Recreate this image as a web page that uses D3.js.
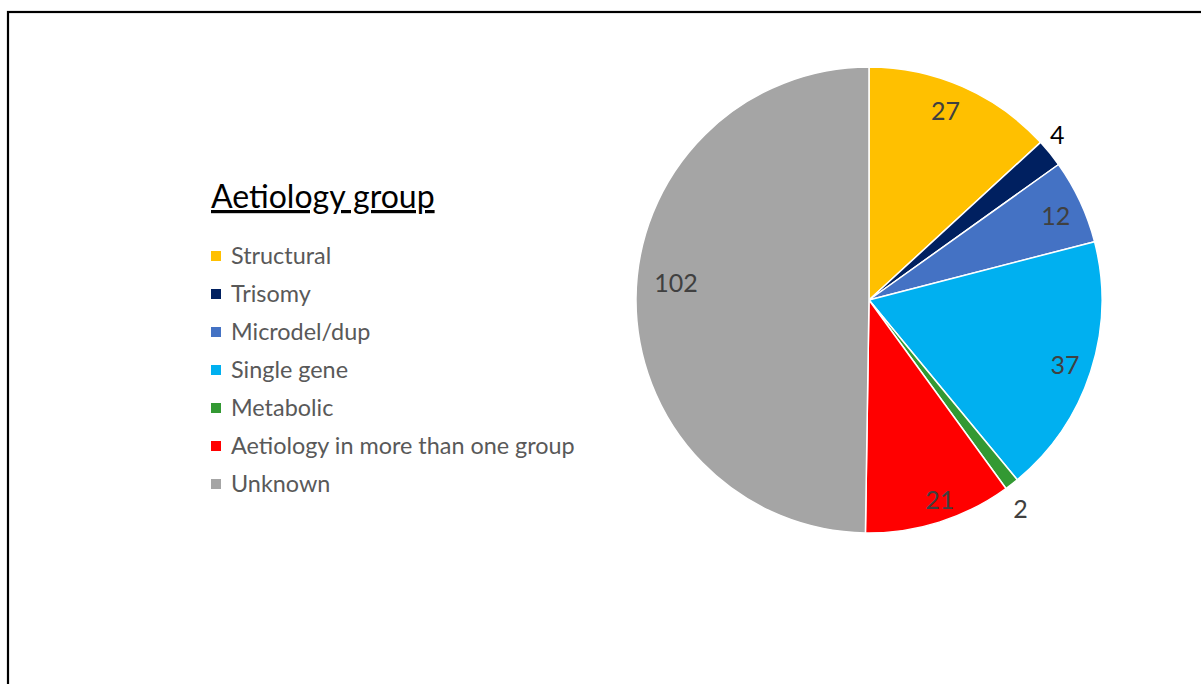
<!DOCTYPE html>
<html>
<head>
<meta charset="utf-8">
<script src="https://cdn.jsdelivr.net/npm/d3@7"></script>
<style>
  html, body { margin: 0; padding: 0; background: #fff; }
  svg { display: block; }
  text { font-family: Lato, "Open Sans", sans-serif; }
</style>
</head>
<body>
<svg id="chart" width="1201" height="684"></svg>
<script>
// Aetiology groups and patient counts
const categories = ["Structural", "Trisomy", "Microdel/dup", "Single gene", "Metabolic",
                    "Aetiology in more than one group", "Unknown"];
const counts = [27, 4, 12, 37, 2, 21, 102];
const colors = ["#FFC000", "#002060", "#4472C4", "#00B0F0", "#339933", "#FF0000", "#A5A5A5"];
// Small slices get their label outside the pie
const labelOutside = [false, true, false, false, true, false, false];
const legendTitle = "Aetiology group";

const svg = d3.select("#chart");
const W = 1201, H = 684;

// frame
svg.append("rect")
  .attr("x", 8).attr("y", 12)
  .attr("width", W + 20).attr("height", H + 20)
  .attr("fill", "none").attr("stroke", "#000").attr("stroke-width", 2.2);

const cx = 869, cy = 300, radius = 233;

const data = categories.map((c, i) => ({ name: c, value: counts[i], color: colors[i], outside: labelOutside[i] }));

const pie = d3.pie().value(d => d.value).sort(null);
const arcs = pie(data);
const arc = d3.arc().innerRadius(0).outerRadius(radius);
const inLabelArc = d3.arc().innerRadius(205).outerRadius(205);
const outLabelArc = d3.arc().innerRadius(254).outerRadius(254);

// fine placement nudges for individual value labels (pixels)
const labelNudge = {
  "Structural": [-6, -1],
  "Trisomy": [-9, -5],
  "Microdel/dup": [1, 3],
  "Single gene": [1, 2],
  "Metabolic": [-4, 8],
  "Aetiology in more than one group": [9, 5],
  "Unknown": [12, -15]
};

const g = svg.append("g").attr("transform", `translate(${cx},${cy})`);

g.selectAll("path.slice")
  .data(arcs)
  .join("path")
  .attr("class", "slice")
  .attr("d", arc)
  .attr("fill", d => d.data.color)
  .attr("stroke", "#fff")
  .attr("stroke-width", 1.5)
  .attr("stroke-linejoin", "round");

g.selectAll("text.val")
  .data(arcs)
  .join("text")
  .attr("class", "val")
  .attr("transform", d => {
    const p = (d.data.outside ? outLabelArc : inLabelArc).centroid(d);
    const n = labelNudge[d.data.name] || [0, 0];
    return `translate(${p[0] + n[0]},${p[1] + n[1]})`;
  })
  .attr("text-anchor", "middle")
  .attr("dy", "0.36em")
  .attr("font-size", 25)
  .attr("fill", d => d.data.name === "Trisomy" ? "#000" : "#404040")
  .text(d => d.data.value);

// legend
const lg = svg.append("g").attr("transform", "translate(211,0)");
lg.append("text")
  .attr("x", 0).attr("y", 208)
  .attr("font-size", 32)
  .attr("fill", "#000")
  .attr("text-decoration", "underline")
  .text(legendTitle);

const rowY = d3.scalePoint().domain(categories).range([256, 484]);
const rows = lg.selectAll("g.row").data(data).join("g")
  .attr("class", "row")
  .attr("transform", d => `translate(0,${rowY(d.name)})`);
rows.append("rect")
  .attr("x", 0).attr("y", -5).attr("width", 10).attr("height", 10)
  .attr("fill", d => d.color);
rows.append("text")
  .attr("x", 20).attr("y", 0).attr("dy", "0.36em")
  .attr("font-size", 23.4)
  .attr("fill", "#595959")
  .text(d => d.name);
</script>
</body>
</html>
